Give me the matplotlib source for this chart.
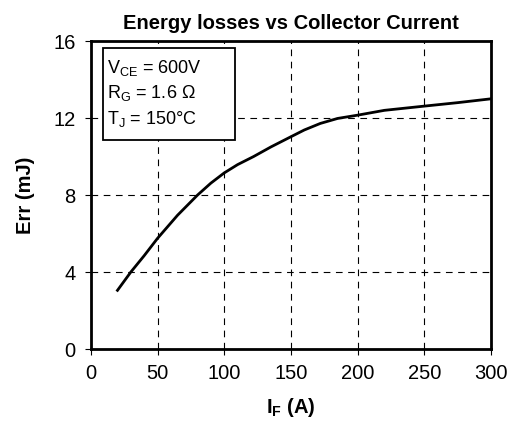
import numpy as np
import matplotlib
matplotlib.use('Agg')
import matplotlib.pyplot as plt
from matplotlib.patches import Rectangle

plt.rcParams['font.family'] = ['Liberation Sans', 'DejaVu Sans']
plt.rcParams['mathtext.fontset'] = 'custom'
plt.rcParams['mathtext.rm'] = 'Liberation Sans'
plt.rcParams['mathtext.it'] = 'Liberation Sans'
plt.rcParams['mathtext.bf'] = 'Liberation Sans:bold'

# Data
current_a = [20, 30, 40, 50, 65, 80, 90, 100, 110, 122, 135, 150, 160, 172, 185, 200,
             220, 250, 275, 300]
err_mj = [3.05, 4.0, 4.85, 5.75, 6.95, 8.0, 8.62, 9.15, 9.58, 10.0, 10.5, 11.03, 11.38,
          11.72, 11.98, 12.15, 12.4, 12.62, 12.8, 13.0]
x_ticks = [0, 50, 100, 150, 200, 250, 300]
y_ticks = [0, 4, 8, 12, 16]
conditions = [r'V$_{\mathrm{CE}}$ = 600V',
              r'R$_{\mathrm{G}}$ = 1.6 $\Omega$',
              r'T$_{\mathrm{J}}$ = 150°C']

fig = plt.figure(figsize=(5.1, 4.32), dpi=100)
ax = fig.add_axes([0.178, 0.192, 0.785, 0.713])

ax.plot(current_a, err_mj, color='black', lw=2, zorder=3, solid_joinstyle='round')

ax.set_xlim(0, 300)
ax.set_ylim(0, 16)
ax.set_xticks(x_ticks)
ax.set_yticks(y_ticks)
ax.tick_params(direction='out', length=4, width=0.8, labelsize=14.5, pad=7)
ax.grid(True, color='black', linestyle=(0, (6, 5)), linewidth=0.8)
for s in ax.spines.values():
    s.set_linewidth(2)

ax.set_title('Energy losses vs Collector Current', fontsize=14.5, fontweight='bold', pad=9)
ax.set_xlabel(r'I$_{\mathbf{F}}$ (A)', fontsize=14.5, fontweight='bold', labelpad=9)
ax.set_ylabel('Err (mJ)', fontsize=14.5, fontweight='bold', labelpad=13)

# condition box
ax.add_patch(Rectangle((0.03, 0.679), 0.33, 0.298, transform=ax.transAxes,
                       facecolor='white', edgecolor='black', linewidth=1.3, zorder=4))
for txt, yb in zip(conditions, [0.896, 0.815, 0.731]):
    ax.text(0.04, yb, txt, transform=ax.transAxes, fontsize=13,
            va='baseline', ha='left', zorder=5)

fig.savefig('out.png', dpi=100)
